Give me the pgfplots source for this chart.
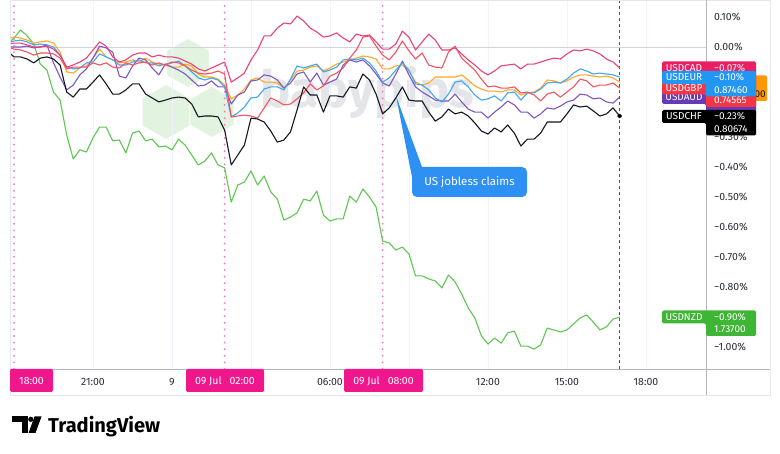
\documentclass[border=0pt]{standalone}
\usepackage{pgfplots}
\pgfplotsset{compat=1.18}
\usepackage{pgfplotstable}
\usepackage{graphicx}
\usepackage{fontspec}
\setmainfont{Fira Sans}
\definecolor{cadl}{HTML}{EC407A}
\definecolor{cadb}{HTML}{E91E63}
\definecolor{gbpl}{HTML}{F7525F}
\definecolor{gbpb}{HTML}{F23645}
\definecolor{eurl}{HTML}{42A5F5}
\definecolor{eurb}{HTML}{2196F3}
\definecolor{orgl}{HTML}{FFA726}
\definecolor{orgb}{HTML}{FF9800}
\definecolor{audl}{HTML}{7E57C2}
\definecolor{audb}{HTML}{673AB7}
\definecolor{chfl}{HTML}{131722}
\definecolor{nzdl}{HTML}{5FC652}
\definecolor{nzdb}{HTML}{3FB535}
\definecolor{sess}{HTML}{F0168C}
\definecolor{sessdot}{HTML}{F37CBE}
\definecolor{gridc}{HTML}{F0F3FA}
\definecolor{zeroc}{HTML}{D1D4DC}
\definecolor{txt}{HTML}{2A2E39}
\definecolor{framec}{HTML}{B2B5BE}
\definecolor{framel}{HTML}{E6E8EE}
\definecolor{callout}{HTML}{2E90F2}
\definecolor{wmgray}{HTML}{E3E5E9}
\definecolor{wmgreen}{HTML}{E2F3DF}
\definecolor{dashc}{HTML}{50535E}
\newcommand{\lbfont}{\fontsize{10}{12}\selectfont}
\newcommand{\tkfont}{\fontsize{10.5}{12}\selectfont}
\newcommand{\plab}[5]{%
  \fill[#1, rounded corners=1.5pt] (662,{#2-6.5}) -- (756,{#2-6.5}) -- (756,{#2+19}) -- (706,{#2+19}) -- (706,{#2+6.5}) -- (662,{#2+6.5}) -- cycle;
  \node[text=white, font=\lbfont, inner sep=0pt] at (684,#2) {#3};
  \node[text=white, font=\lbfont, inner sep=0pt, anchor=west] at (714,#2) {#4};
  \node[text=white, font=\lbfont, inner sep=0pt, anchor=west] at (714,{#2+12.5}) {#5};
}

\pgfplotstableread{
k nzd chf cad gbp eur org aud
-1 0.010 -0.013 0.010 0.000 0.013 0.027 0.000
0 0.030 -0.033 0.013 -0.007 0.020 0.033 0.000
1 0.057 -0.033 0.013 -0.010 0.023 0.030 0.000
2 0.037 -0.040 0.007 -0.017 0.017 0.023 0.003
3 0.010 -0.053 0.000 -0.027 0.007 0.013 -0.003
4 -0.057 -0.037 0.000 -0.020 0.010 0.017 0.000
5 -0.077 -0.033 0.003 -0.020 0.007 0.020 0.007
6 -0.150 -0.040 -0.007 -0.023 0.000 0.013 -0.053
7 -0.177 -0.060 -0.027 -0.037 -0.027 -0.017 -0.100
8 -0.293 -0.150 -0.067 -0.073 -0.067 -0.083 -0.143
9 -0.373 -0.167 -0.060 -0.067 -0.073 -0.087 -0.127
10 -0.343 -0.140 -0.050 -0.067 -0.070 -0.070 -0.093
11 -0.350 -0.140 -0.037 -0.067 -0.053 -0.063 -0.073
12 -0.303 -0.117 -0.010 -0.053 -0.050 -0.037 -0.037
13 -0.267 -0.093 0.017 -0.060 -0.023 -0.007 0.003
14 -0.267 -0.123 0.003 -0.053 -0.033 -0.033 -0.003
15 -0.313 -0.157 -0.033 -0.067 -0.043 -0.043 -0.017
16 -0.310 -0.157 -0.050 -0.070 -0.060 -0.053 -0.097
17 -0.353 -0.143 -0.043 -0.053 -0.060 -0.050 -0.103
18 -0.287 -0.123 -0.027 -0.060 -0.050 -0.043 -0.063
19 -0.280 -0.123 -0.020 -0.053 -0.043 -0.050 -0.037
20 -0.313 -0.157 -0.020 -0.050 -0.053 -0.037 -0.043
21 -0.307 -0.170 -0.033 -0.060 -0.053 -0.050 -0.070
22 -0.333 -0.183 -0.027 -0.053 -0.063 -0.057 -0.093
23 -0.330 -0.177 -0.033 -0.060 -0.057 -0.060 -0.057
24 -0.343 -0.170 -0.033 -0.050 -0.053 -0.067 -0.067
25 -0.307 -0.167 -0.037 -0.053 -0.047 -0.067 -0.077
26 -0.327 -0.170 -0.047 -0.063 -0.063 -0.057 -0.090
27 -0.360 -0.190 -0.057 -0.077 -0.083 -0.063 -0.110
28 -0.393 -0.233 -0.073 -0.087 -0.103 -0.090 -0.130
29 -0.380 -0.230 -0.080 -0.090 -0.110 -0.100 -0.127
30 -0.353 -0.230 -0.070 -0.087 -0.103 -0.100 -0.113
31 -0.393 -0.233 -0.060 -0.080 -0.110 -0.107 -0.133
32 -0.403 -0.277 -0.050 -0.090 -0.133 -0.127 -0.133
33 -0.517 -0.393 -0.117 -0.233 -0.233 -0.173 -0.190
34 -0.460 -0.360 -0.103 -0.230 -0.220 -0.160 -0.160
35 -0.450 -0.327 -0.087 -0.227 -0.200 -0.140 -0.150
36 -0.413 -0.237 -0.043 -0.230 -0.170 -0.110 -0.113
37 -0.460 -0.240 -0.010 -0.237 -0.167 -0.103 -0.110
38 -0.430 -0.250 0.037 -0.203 -0.140 -0.117 -0.093
39 -0.483 -0.280 0.037 -0.170 -0.133 -0.117 -0.097
40 -0.507 -0.317 0.063 -0.180 -0.133 -0.120 -0.110
41 -0.577 -0.310 0.080 -0.193 -0.143 -0.137 -0.137
42 -0.567 -0.283 0.077 -0.190 -0.107 -0.110 -0.120
43 -0.553 -0.210 0.103 -0.173 -0.063 -0.080 -0.090
44 -0.507 -0.133 0.087 -0.153 -0.070 -0.077 -0.083
45 -0.513 -0.160 0.063 -0.123 -0.063 -0.067 -0.117
46 -0.480 -0.160 0.050 -0.143 -0.057 -0.063 -0.087
47 -0.560 -0.217 0.033 -0.130 -0.083 -0.080 -0.127
48 -0.580 -0.163 0.037 -0.097 -0.077 -0.070 -0.117
49 -0.573 -0.163 0.047 -0.087 -0.067 -0.057 -0.107
50 -0.573 -0.167 0.030 -0.070 -0.043 -0.050 -0.060
51 -0.497 -0.133 0.017 -0.037 -0.040 -0.043 -0.043
52 -0.517 -0.137 0.043 -0.010 -0.043 -0.037 -0.050
53 -0.473 -0.090 0.037 0.033 -0.037 -0.030 -0.043
54 -0.500 -0.110 0.040 0.037 -0.053 -0.033 -0.063
55 -0.533 -0.157 0.017 0.003 -0.080 -0.040 -0.090
56 -0.647 -0.223 -0.007 -0.027 -0.117 -0.073 -0.120
57 -0.653 -0.203 -0.007 -0.043 -0.103 -0.073 -0.130
58 -0.677 -0.170 0.010 -0.017 -0.077 -0.063 -0.090
59 -0.667 -0.133 0.053 0.020 -0.053 -0.060 -0.047
60 -0.690 -0.177 0.033 -0.013 -0.077 -0.080 -0.093
61 -0.763 -0.180 -0.010 -0.040 -0.123 -0.117 -0.133
62 -0.763 -0.180 0.017 -0.020 -0.127 -0.127 -0.150
63 -0.773 -0.217 0.043 -0.060 -0.143 -0.120 -0.163
64 -0.780 -0.247 0.023 -0.067 -0.170 -0.100 -0.177
65 -0.803 -0.233 -0.010 -0.070 -0.183 -0.100 -0.180
66 -0.760 -0.207 -0.010 -0.017 -0.157 -0.100 -0.180
67 -0.783 -0.223 -0.003 0.003 -0.117 -0.100 -0.157
68 -0.823 -0.217 -0.023 -0.037 -0.113 -0.093 -0.183
69 -0.870 -0.230 -0.043 -0.057 -0.133 -0.110 -0.207
70 -0.903 -0.253 -0.060 -0.077 -0.160 -0.130 -0.217
71 -0.963 -0.280 -0.080 -0.107 -0.177 -0.140 -0.217
72 -0.990 -0.290 -0.093 -0.133 -0.173 -0.147 -0.237
73 -0.970 -0.270 -0.080 -0.130 -0.163 -0.147 -0.217
74 -0.987 -0.283 -0.063 -0.137 -0.180 -0.150 -0.200
75 -0.953 -0.260 -0.060 -0.137 -0.153 -0.143 -0.180
76 -0.947 -0.287 -0.057 -0.133 -0.150 -0.143 -0.193
77 -0.997 -0.330 -0.073 -0.153 -0.177 -0.160 -0.217
78 -0.997 -0.307 -0.057 -0.150 -0.153 -0.153 -0.217
79 -1.007 -0.307 -0.057 -0.160 -0.153 -0.150 -0.237
80 -0.993 -0.287 -0.050 -0.180 -0.140 -0.137 -0.223
81 -0.937 -0.250 -0.043 -0.157 -0.120 -0.110 -0.203
82 -0.943 -0.250 -0.037 -0.150 -0.117 -0.113 -0.207
83 -0.950 -0.250 -0.040 -0.167 -0.120 -0.120 -0.197
84 -0.943 -0.223 -0.023 -0.150 -0.107 -0.113 -0.183
85 -0.923 -0.193 -0.010 -0.133 -0.087 -0.100 -0.177
86 -0.903 -0.200 -0.013 -0.107 -0.073 -0.093 -0.157
87 -0.893 -0.197 -0.007 -0.113 -0.080 -0.093 -0.160
88 -0.917 -0.213 -0.013 -0.133 -0.090 -0.097 -0.173
89 -0.943 -0.230 -0.023 -0.127 -0.087 -0.100 -0.170
90 -0.933 -0.223 -0.040 -0.127 -0.090 -0.097 -0.183
91 -0.907 -0.203 -0.050 -0.120 -0.093 -0.103 -0.187
92 -0.900 -0.230 -0.070 -0.137 -0.100 -0.117 -0.167
}\fxdata

\begin{document}
\begin{tikzpicture}
\path[use as bounding box] (0,0) rectangle (780pt,453pt);
\fill[white] (0,0) rectangle (780pt,453pt);
% watermark
\begin{scope}[x=1pt,y=-1pt,shift={(0pt,453pt)}]
  \foreach \cx/\cy/\rr in {188/63/24, 166/112/27, 212/112/25} {
    \fill[wmgreen] (\cx,\cy) +(90:\rr) -- +(150:\rr) -- +(210:\rr) -- +(270:\rr) -- +(330:\rr) -- +(30:\rr) -- cycle;
  }
  \node[anchor=base west, inner sep=0pt, text=wmgray] at (260,108) {\resizebox{214pt}{!}{\bfseries babypips}};
\end{scope}

\begin{axis}[
  at={(10pt,84pt)}, anchor=south west,
  width=696pt, height=369pt, scale only axis,
  xmin=-0.608, xmax=105.12, ymin=-1.0733, ymax=0.1567,
  axis line style={draw=none},
  major tick length=0pt,
  xtick={12,24,36,48,60,72,84,96},
  xticklabels={21:00,9,,06:00,,12:00,15:00,18:00},
  xmajorgrids,
  major grid style={draw=gridc, line width=0.8pt},
  xticklabel style={anchor=north, inner sep=0pt, yshift=-9pt, font=\tkfont, text=txt},
  ytick={0.1,0,-0.3,-0.4,-0.5,-0.6,-0.7,-0.8,-1.0},
  yticklabels={0.10\%,0.00\%,−0.30\%,−0.40\%,−0.50\%,−0.60\%,−0.70\%,−0.80\%,−1.00\%},
  yticklabel pos=right,
  yticklabel style={anchor=west, inner sep=0pt, xshift=8pt, font=\tkfont, text=txt},
  clip=true,
  every axis plot/.append style={line width=1.1pt, line join=round},
]
\draw[zeroc, line width=0.9pt] (axis cs:-0.608,0) -- (axis cs:105.12,0);
\draw[sessdot, line width=2.1pt, line cap=round, dash pattern=on 0pt off 6.6pt] (axis cs:0,-1.0733) -- (axis cs:0,0.1567);
\draw[sessdot, line width=2.1pt, line cap=round, dash pattern=on 0pt off 6.6pt] (axis cs:32,-1.0733) -- (axis cs:32,0.1567);
\draw[sessdot, line width=2.1pt, line cap=round, dash pattern=on 0pt off 6.6pt] (axis cs:56,-1.0733) -- (axis cs:56,0.1567);
\draw[dashc, line width=0.8pt, dash pattern=on 3pt off 3pt] (axis cs:92,-1.0733) -- (axis cs:92,0.1567);
\addplot[nzdl] table[x=k,y=nzd]{\fxdata};
\addplot[orgl] table[x=k,y=org]{\fxdata};
\addplot[audl] table[x=k,y=aud]{\fxdata};
\addplot[eurl] table[x=k,y=eur]{\fxdata};
\addplot[gbpl] table[x=k,y=gbp]{\fxdata};
\addplot[cadl] table[x=k,y=cad]{\fxdata};
\addplot[chfl] table[x=k,y=chf]{\fxdata};
\addplot[only marks, mark=*, mark size=1.8pt, black] coordinates {(92,-0.230)};
\end{axis}

\begin{scope}[x=1pt,y=-1pt,shift={(0pt,453pt)}]
  % frame
  \draw[framel, line width=0.6pt] (10,0) rectangle (770,395);
  \draw[framec, line width=0.8pt] (10,369) -- (770,369);
  \draw[framec, line width=0.8pt] (706,0) -- (706,395);
  % session boxes on time axis
  \fill[sess, rounded corners=1.5pt] (10,369) rectangle (53,392);
  \node[text=white, font=\tkfont, inner sep=0pt] at (31.5,381) {18:00};
  \fill[sess, rounded corners=1.5pt] (186,369) rectangle (264,392);
  \node[text=white, font=\tkfont, inner sep=0pt] at (225,381) {09 Jul\hspace{8pt}02:00};
  \fill[sess, rounded corners=1.5pt] (344,369) rectangle (423,392);
  \node[text=white, font=\tkfont, inner sep=0pt] at (383.5,381) {09 Jul\hspace{8pt}08:00};
  % price labels
  \fill[orgb, rounded corners=1.5pt] (706,75.5) rectangle (767,101);
  \node[text=chfl, font=\lbfont, inner sep=0pt, anchor=east] at (766,94.5) {00};
  \plab{audb}{97.5}{USDAUD}{}{}
  \plab{cadb}{68}{USDCAD}{−0.07\%}{}
  \plab{gbpb}{88}{USDGBP}{}{0.74565}
  \plab{eurb}{77.5}{USDEUR}{−0.10\%}{0.87460}
  \plab{black}{116.5}{USDCHF}{−0.23\%}{0.80674}
  \plab{nzdb}{317}{USDNZD}{−0.90\%}{1.73700}
  % callout
  \fill[callout] (396,96) -- (412,177) -- (422,167) -- cycle;
  \fill[callout, rounded corners=5pt] (412,167) rectangle (527,197);
  \node[text=white, font=\fontsize{11.5}{13}\selectfont, inner sep=0pt] at (469.5,182) {US jobless claims};
  % TradingView logo
  \fill[black] (12,416.5) rectangle (28,422);
  \fill[black] (21.5,416.5) rectangle (28,433);
  \fill[black] (30.8,419.3) circle (2.6);
  \fill[black] (34.5,416.5) -- (41.5,416.5) -- (35.5,433) -- (28.5,433) -- cycle;
  \node[anchor=base west, inner sep=0pt, text=black] at (48,432) {\resizebox{112pt}{!}{\bfseries TradingView}};
\end{scope}
\end{tikzpicture}
\end{document}
